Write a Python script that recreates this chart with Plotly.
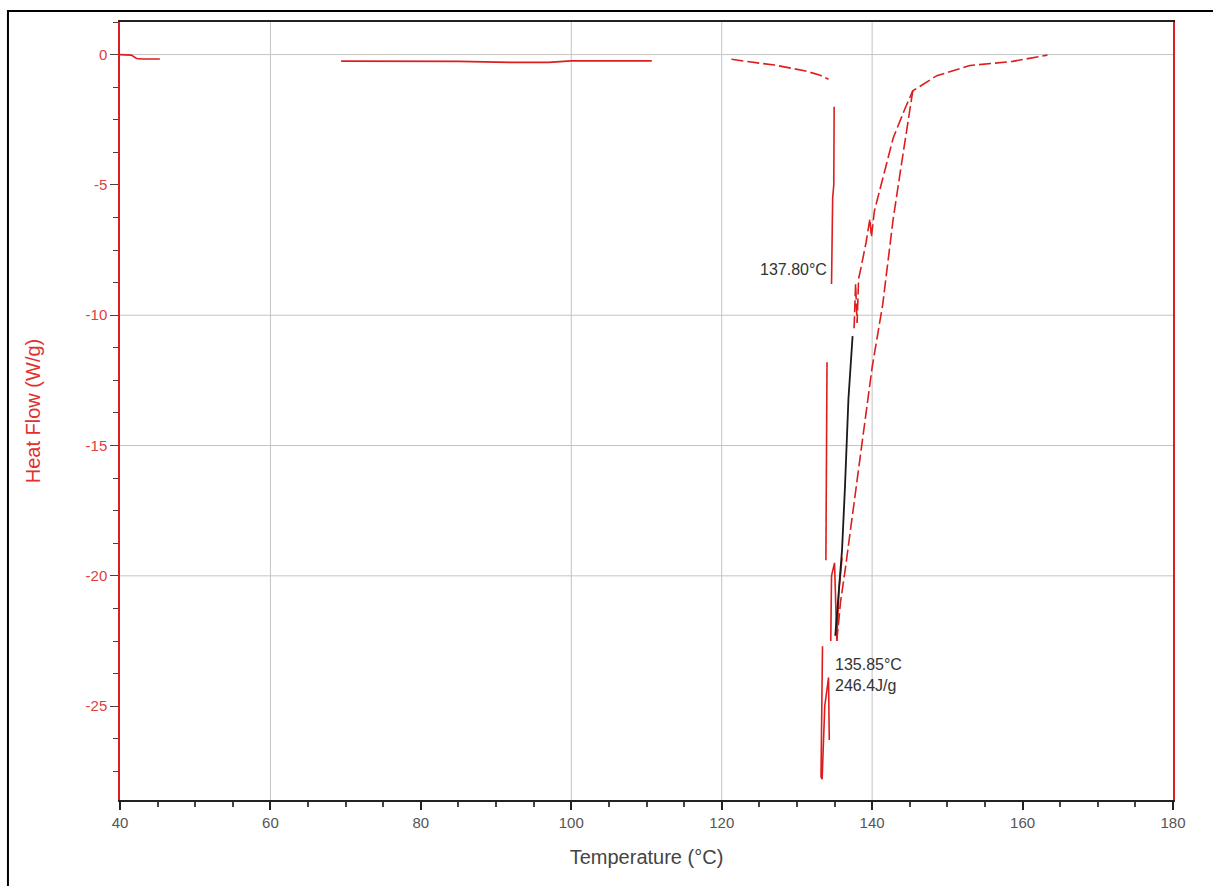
import plotly.graph_objects as go

RED = "#dc1e1e"
# ---------------- data ----------------
# early baseline segments (gaps = None)
base_x = [40.0, 41.5, 42.2, 43.0, 45.3, None, 69.4, 75.0, 85.0, 92.0, 97.0, 100.0, 105.0, 110.7]
base_y = [0.0, -0.02, -0.15, -0.17, -0.17, None, -0.25, -0.25, -0.26, -0.30, -0.30, -0.24, -0.24, -0.24]

# pre-melt baseline 121-134 °C
pre_x = [121.3, 123.0, 125.0, 127.0, 129.0, 131.0, 133.0, 134.2]
pre_y = [-0.18, -0.26, -0.33, -0.40, -0.50, -0.62, -0.78, -0.95]

# steep descent into the melting peak
desc_x = [134.95, 134.9, 134.75, 134.6, None, 134.0, 133.95, 133.85, None,
          133.4, 133.3, 133.2, 133.35, 133.5, 133.7, 134.2, 134.3, None,
          134.5, 134.6, 135.0, 135.3, 135.6, 136.0]
desc_y = [-2.0, -5.0, -5.5, -8.8, None, -11.8, -16.0, -19.4, None,
          -22.7, -26.0, -27.7, -27.8, -26.5, -25.0, -23.9, -26.3, None,
          -22.5, -20.0, -19.5, -22.5, -20.5, -19.3]

# inner return branch (upper part)
inner_x = [137.6, 137.8, 138.0, 138.2, 138.5, 139.2, 139.7, 139.9, 140.3, 141.5,
           142.8, 144.4, 145.4, 148.6, 153.0, 158.7, 162.3, 163.3]
inner_y = [-10.5, -8.8, -10.3, -8.6, -8.2, -7.2, -6.3, -7.0, -6.0, -4.6,
           -3.2, -2.05, -1.39, -0.81, -0.42, -0.26, -0.08, -0.02]

# outer return branch
outer_x = [135.3, 135.8, 136.4, 136.85, 137.8, 138.8, 140.0, 141.4, 142.8, 143.9, 144.8, 145.4]
outer_y = [-22.5, -21.0, -19.8, -18.8, -16.7, -14.6, -12.0, -9.6, -6.3, -4.2, -2.4, -1.4]

# black segment
black_x = [135.1, 135.6, 136.0, 136.4, 136.85, 137.4]
black_y = [-22.3, -20.5, -19.0, -16.5, -13.2, -10.8]

x_ticks = [40, 60, 80, 100, 120, 140, 160, 180]
y_ticks = [0, -5, -10, -15, -20, -25]
x_grid = [60, 100, 120, 140]
y_grid = [0, -10, -15, -20]

# ---------------- figure ----------------
fig = go.Figure()

def add(xs, ys, color=RED, dash="solid", width=1.6):
    fig.add_trace(go.Scatter(x=xs, y=ys, mode="lines", connectgaps=False,
                             line=dict(color=color, width=width, dash=dash),
                             hoverinfo="skip", showlegend=False))

add(base_x, base_y)
add(pre_x, pre_y, dash="12px,4px")
add(desc_x, desc_y)
add(inner_x, inner_y, dash="12px,4px")
add(outer_x, outer_y, dash="12px,4px")
add(black_x, black_y, color="#1a1a1a", width=1.8)

shapes = []
for gx in x_grid:
    shapes.append(dict(type="line", xref="x", yref="paper", x0=gx, x1=gx, y0=0, y1=1,
                       line=dict(color="#c4c4c4", width=1), layer="below"))
for gy in y_grid:
    shapes.append(dict(type="line", xref="paper", yref="y", x0=0, x1=1, y0=gy, y1=gy,
                       line=dict(color="#c4c4c4", width=1), layer="below"))
# outer frame of the picture
shapes.append(dict(type="rect", xref="paper", yref="paper",
                   x0=-0.1064, x1=1.05, y0=-0.13, y1=1.0141,
                   line=dict(color="black", width=2), fillcolor="rgba(0,0,0,0)"))

annotations = [
    dict(x=134.3, y=-8.25, xref="x", yref="y", text="137.80°C", showarrow=False,
         xanchor="right", yanchor="middle",
         font=dict(family="Liberation Sans, Arial", size=16, color="#333333")),
    dict(x=134.75, y=-23.8, xref="x", yref="y", text="135.85°C<br>246.4J/g", showarrow=False,
         xanchor="left", yanchor="middle", align="left",
         font=dict(family="Liberation Sans, Arial", size=16, color="#333333")),
]

fig.update_layout(
    width=1213, height=886,
    margin=dict(l=120, r=40, t=22, b=86),
    paper_bgcolor="white", plot_bgcolor="white",
    shapes=shapes, annotations=annotations,
    font=dict(family="Liberation Sans, Arial", color="#444444"),
    xaxis=dict(
        range=[40, 180], tickvals=x_ticks, ticktext=[str(v) for v in x_ticks],
        showgrid=False, zeroline=False,
        showline=True, linecolor="#222222", linewidth=1.5, mirror=True,
        ticks="outside", ticklen=8, tickcolor="#222222", tickwidth=1.5,
        tickfont=dict(size=15, color="#555555"),
        minor=dict(dtick=5, tick0=40, ticks="outside", ticklen=5, tickcolor="#444444", showgrid=False),
        title=dict(text="Temperature (°C)", font=dict(size=20, color="#444444"), standoff=20),
    ),
    yaxis=dict(
        range=[-28.6, 1.25], tickvals=y_ticks, ticktext=[str(v) for v in y_ticks],
        showgrid=False, zeroline=False,
        showline=True, linecolor=RED, linewidth=1.5, mirror=True,
        ticks="outside", ticklen=8, tickcolor="#444444", tickwidth=1.2,
        tickfont=dict(size=15, color="#e04040"),
        minor=dict(dtick=1.25, tick0=0, ticks="outside", ticklen=5, tickcolor="#444444", showgrid=False),
        title=dict(text="Heat Flow (W/g)", font=dict(size=20, color="#e03030"), standoff=40),
    ),
)

fig.write_html("out.html")
